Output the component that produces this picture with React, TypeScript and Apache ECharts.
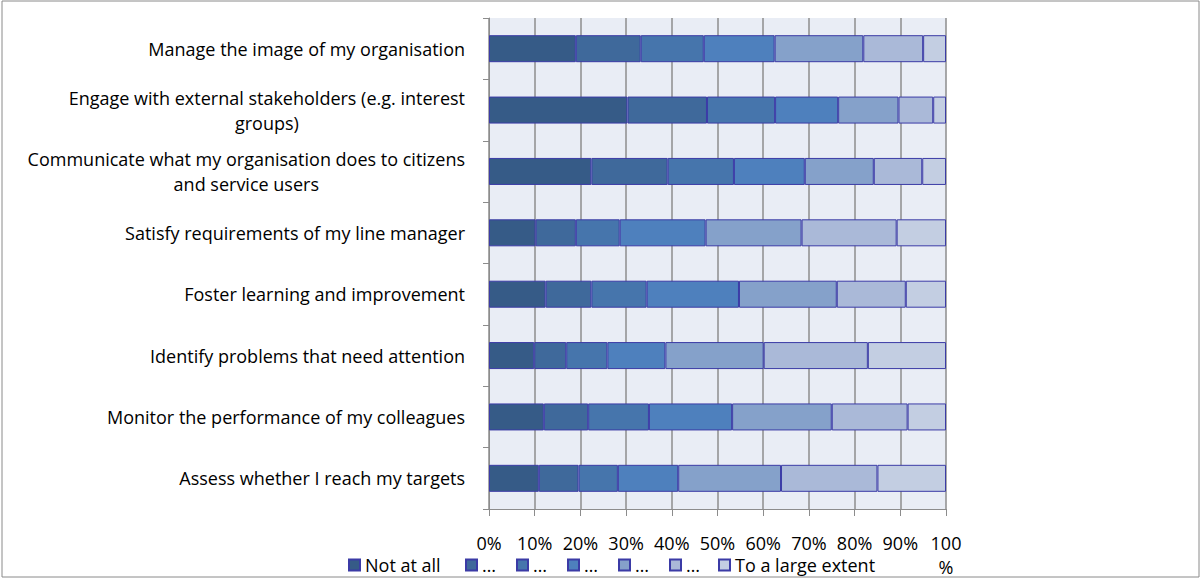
import React, { useEffect, useRef } from "react";
import * as echarts from "echarts";

const categories = [
  "Manage the image of my organisation",
  "Engage with external stakeholders (e.g. interest\ngroups)",
  "Communicate what my organisation does to citizens\nand service users",
  "Satisfy requirements of my line manager",
  "Foster learning and improvement",
  "Identify problems that need attention",
  "Monitor the performance of my colleagues",
  "Assess whether I reach my targets",
];

const seriesNames = ["Not at all", "2", "3", "4", "5", "6", "To a large extent"];
const legendLabels: Record<string, string> = {
  "Not at all": "Not at all",
  "2": "…",
  "3": "…",
  "4": "…",
  "5": "…",
  "6": "…",
  "To a large extent": "To a large extent",
};

const notAtAll = [19.0, 30.3, 22.4, 10.2, 12.4, 9.9, 12.0, 10.9];
const level2 = [14.2, 17.4, 16.7, 8.8, 10.0, 7.0, 9.7, 8.7];
const level3 = [13.8, 14.9, 14.5, 9.6, 12.1, 9.0, 13.3, 8.6];
const level4 = [15.5, 13.8, 15.5, 18.8, 20.2, 12.7, 18.2, 13.2];
const level5 = [19.4, 13.2, 15.1, 21.0, 21.4, 21.5, 21.8, 22.5];
const level6 = [13.1, 7.6, 10.6, 20.8, 15.1, 22.8, 16.6, 21.1];
const largeExtent = [5.0, 2.8, 5.2, 10.8, 8.8, 17.1, 8.4, 15.0];

const seriesValues = [notAtAll, level2, level3, level4, level5, level6, largeExtent];
const colors = ["#365B87", "#3F699B", "#4675AC", "#4E80BD", "#85A1CA", "#AAB9D8", "#C3CEE2"];

const FONT = "'Open Sans', sans-serif";

const legendText = { fontFamily: FONT, fontSize: 18, lineHeight: 18, color: "#000" };

export default function App() {
  const ref = useRef<HTMLDivElement>(null);
  useEffect(() => {
    if (!ref.current) return;
    const chart = echarts.init(ref.current, undefined, { renderer: "svg" });
    chart.setOption({
      animation: false,
      backgroundColor: "#ffffff",
      textStyle: { fontFamily: FONT },
      graphic: [
        {
          type: "rect",
          shape: { x: 2, y: 1, width: 1197, height: 576 },
          style: { fill: "none", stroke: "#8a8a8a", lineWidth: 1 },
          silent: true,
          z: -1,
        },
      ],
      grid: {
        left: 489,
        right: 256,
        top: 18,
        bottom: 65,
        show: true,
        backgroundColor: "#E9EDF5",
        borderWidth: 0,
      },
      legend: [
        {
          left: 348,
          top: 556,
          padding: 0,
          itemWidth: 11,
          itemHeight: 11,
          icon: "rect",
          data: ["Not at all"],
          formatter: (name: string) => legendLabels[name],
          textStyle: legendText,
        },
        {
          left: 465,
          top: 556,
          padding: 0,
          itemWidth: 11,
          itemHeight: 11,
          itemGap: 20,
          icon: "rect",
          data: ["2", "3", "4", "5", "6"],
          formatter: (name: string) => legendLabels[name],
          textStyle: { ...legendText, width: 14 },
        },
        {
          left: 718,
          top: 556,
          padding: 0,
          itemWidth: 11,
          itemHeight: 11,
          icon: "rect",
          data: ["To a large extent"],
          formatter: (name: string) => legendLabels[name],
          textStyle: legendText,
        },
      ],
      xAxis: {
        type: "value",
        min: 0,
        max: 100,
        interval: 10,
        axisLine: { show: true, lineStyle: { color: "#8c8c8c", width: 1 } },
        axisTick: { show: true, length: 7, lineStyle: { color: "#8c8c8c" } },
        splitLine: { show: true, lineStyle: { color: "#8c8c8c", width: 1.5 } },
        axisLabel: {
          margin: 22,
          fontFamily: FONT,
          fontSize: 18,
          color: "#000",
          lineHeight: 24,
          verticalAlign: "top",
          formatter: (v: number) => (v === 100 ? "100\n%" : v + "%"),
        },
      },
      yAxis: {
        type: "category",
        inverse: true,
        data: categories,
        axisLine: { show: true, lineStyle: { color: "#8c8c8c", width: 1 } },
        axisTick: { show: true, length: 6, lineStyle: { color: "#8c8c8c" } },
        splitLine: { show: false },
        axisLabel: {
          margin: 24,
          fontFamily: FONT,
          fontSize: 18,
          color: "#000",
          lineHeight: 25,
          align: "right",
          formatter: (v: string) =>
            v
              .split("\n")
              .map((l) => `{c|${l}}`)
              .join("\n"),
          rich: {
            c: {
              align: "center",
              fontFamily: FONT,
              fontSize: 18,
              color: "#000",
              lineHeight: 25,
            },
          },
        },
      },
      series: seriesNames.map((name, i) => ({
        name,
        type: "bar",
        stack: "total",
        barWidth: 27,
        data: seriesValues[i],
        itemStyle: { color: colors[i], borderColor: "#3B3BA6", borderWidth: 1 },
        emphasis: { disabled: true },
      })),
    });
    return () => chart.dispose();
  }, []);
  return (
    <div
      ref={ref}
      style={{ position: "fixed", left: 0, top: 0, width: 1202, height: 579 }}
    />
  );
}
